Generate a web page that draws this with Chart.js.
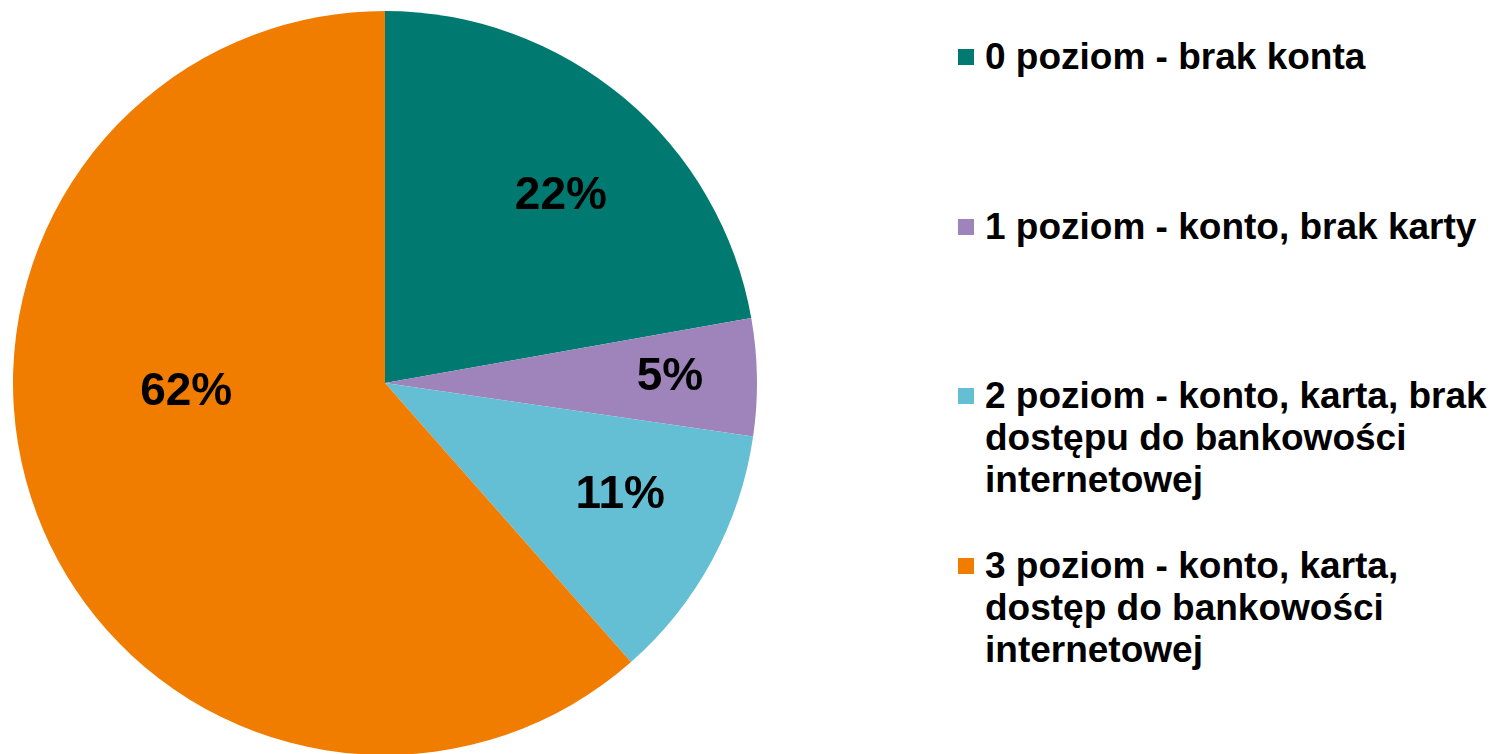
<!DOCTYPE html>
<html>
<head>
<meta charset="utf-8">
<script src="https://cdn.jsdelivr.net/npm/chart.js@4"></script>
<style>
  html, body { margin: 0; padding: 0; background: #fff; overflow: hidden; }
  body { width: 1494px; height: 754px; position: relative; font-family: "Liberation Sans", Arial, sans-serif; }
  #pieBox { position: absolute; left: 13px; top: 11px; width: 744px; height: 744px; }
  #legend { position: absolute; left: 958px; top: 0; width: 536px; }
  .entry { position: absolute; left: 0; width: 536px; }
  .swatch { position: absolute; left: 0; width: 16px; height: 16px; }
  .txt { position: absolute; left: 27px; font-weight: bold; font-size: 37px; line-height: 42px; color: #000; white-space: nowrap; }
</style>
</head>
<body>
<div id="pieBox"><canvas id="myChart"></canvas></div>
<div id="legend"></div>
<script>
// Categories and values (percent shares)
var categories = [
    ["0 poziom - brak konta"],
    ["1 poziom - konto, brak karty"],
    ["2 poziom - konto, karta, brak", "dostępu do bankowości", "internetowej"],
    ["3 poziom - konto, karta,", "dostęp do bankowości", "internetowej"]
];
var shares = [22.2, 5.1, 11.2, 61.5];
var sliceColors = ["#007A70", "#9E84BA", "#65BFD4", "#F07C00"];

// where Excel put each % label: angle shift (deg) and fraction of radius
var labelSpots = [
    { shift: 3.3, frac: 0.69 },
    { shift: -0.3, frac: 0.766 },
    { shift: -3.0, frac: 0.70 },
    { shift: 18.1, frac: 0.535 }
];

var pctLabels = {
    id: "pctLabels",
    afterDatasetsDraw: function(chart) {
        var ctx = chart.ctx;
        var meta = chart.getDatasetMeta(0);
        ctx.save();
        ctx.font = "bold 46px 'Liberation Sans', Arial, sans-serif";
        ctx.fillStyle = "#000";
        ctx.textAlign = "center";
        ctx.textBaseline = "middle";
        meta.data.forEach(function(arc, i) {
            var p = arc.getProps(["x", "y", "startAngle", "endAngle", "outerRadius"], true);
            var mid = (p.startAngle + p.endAngle) / 2 + labelSpots[i].shift * Math.PI / 180;
            var r = p.outerRadius * labelSpots[i].frac;
            ctx.fillText(Math.round(shares[i]) + "%", p.x + Math.cos(mid) * r, p.y + Math.sin(mid) * r);
        });
        ctx.restore();
    }
};

new Chart("myChart", {
    type: "pie",
    data: {
        labels: categories.map(function(c) { return c.join(" "); }),
        datasets: [{
            data: shares,
            backgroundColor: sliceColors,
            borderWidth: 0
        }]
    },
    options: {
        responsive: true,
        maintainAspectRatio: false,
        animation: false,
        layout: { padding: 0 },
        plugins: {
            legend: { display: false },
            tooltip: { enabled: false }
        }
    },
    plugins: [pctLabels]
});

// Build the legend on the right
var tops = [36, 206, 375, 545];
var legend = document.getElementById("legend");
for (var i = 0; i < categories.length; i++) {
    var e = document.createElement("div");
    e.className = "entry";
    e.style.top = tops[i] + "px";
    var sw = document.createElement("div");
    sw.className = "swatch";
    sw.style.top = "13px";
    sw.style.backgroundColor = sliceColors[i];
    var t = document.createElement("div");
    t.className = "txt";
    t.innerHTML = categories[i].join("<br>");
    e.appendChild(sw);
    e.appendChild(t);
    legend.appendChild(e);
}
</script>
</body>
</html>
